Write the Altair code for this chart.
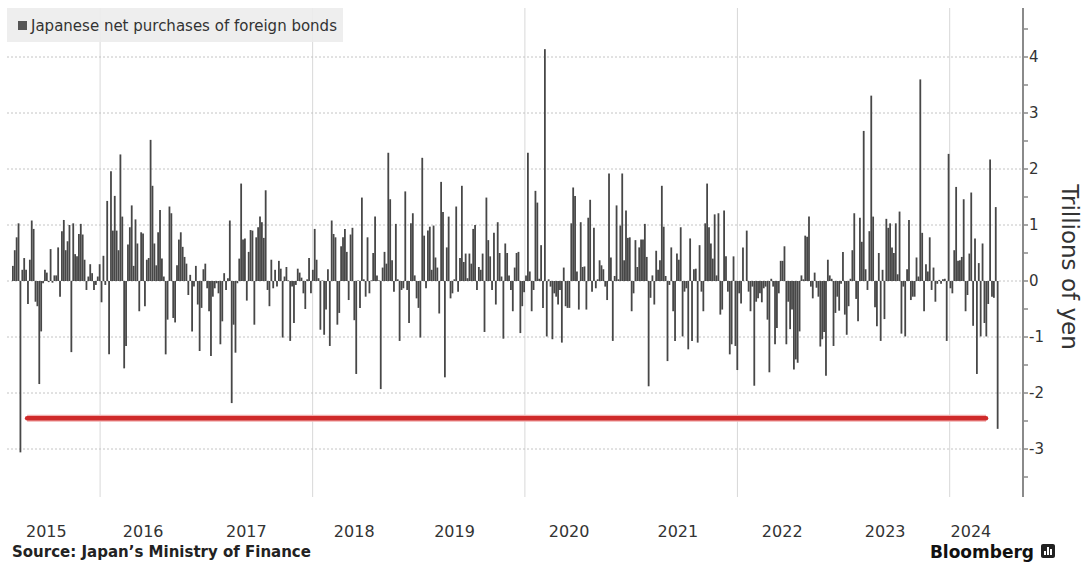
import altair as alt
import pandas as pd

# Weekly net purchases (trillions of yen), read left to right off the reference
seg1 = [0.27,0.55,0.78,1.03,-3.06,0.2,0.41,0.2,-0.41,0.38,1.08,0.93,-0.37,-0.45,-1.84,-0.9,-0.04,0.2,0.15,-0.02,
        0.57,-0.03,0.1,0.1,0.6,-0.28,0.89,1.09,0.55,0.71,1.0,-1.27,1.03,0.48,0.44,0.84,1.02,0.83,0.38,-0.16,
        0.08,0.3,0.14,-0.16,-0.07,0.08,0.3,-0.38,0.45,-0.07,1.43,-1.31,1.96,0.9,1.52,0.9,0.55,2.26,1.15,-1.56,
        -1.16,0.65,0.96,1.35,0.27]
seg2 = [1.1,0.67,-0.54,0.87,0.85,-0.45,0.38,0.41,2.52,1.7,0.67,0.28,0.87,1.27,0.4,0.08,-1.31,-0.69,1.33,1.21,
        -0.66,-0.74,0.28,0.74,0.87,0.61,0.43,0.31,-0.25,0.11,-0.9,-0.1,0.27,-0.42,-1.25,-0.48,0.21,0.31,-0.13,-0.54,
        -1.34,-0.28,-0.13,-0.04,-0.22,-1.13,-0.72,0.14,-0.16,0.05,1.08,-2.18,-0.78,-1.28,-0.04,0.4,1.74,0.74,0.76,-0.35,
        0.52,0.91,0.9,-0.78,0.78]
seg3 = [0.96,1.15,1.05,0.77,1.62,-0.16,-0.45,0.38,-0.13,0.2,-0.1,0.36,0.22,-1.01,0.08,0.25,0.01,-1.07,-0.1,-0.75,
        -0.07,0.22,0.15,0.06,-0.22,-0.5,0.03,0.41,-0.22,0.2,0.93,0.38,0.05,-0.87,0.01,-0.96,-0.51,0.21,-1.16,1.08,
        0.84,0.78,-0.78,-0.57,0.62,0.78,0.93,0.52,-0.34,0.83,0.95,-0.7,-1.66,0.01,-0.48,1.49,0.03,-0.28,0.78,-0.22,
        0.01,0.5,1.15,0.1,0.01,-1.93,0.24,0.52,0.31]
seg4 = [2.29,1.46,0.37,-0.19,1.02,0.03,-1.07,-0.16,-0.13,1.6,-0.16,-0.75,1.03,1.21,0.1,-0.31,-0.48,-1.01,2.2,0.81,
        -0.13,0.9,0.97,0.2,0.99,0.42,0.24,-0.58,1.77,1.23,-1.72,0.6,1.15,-0.31,-0.22,0.03,1.33,-0.19,0.41,1.7,
        0.34,0.49,0.05,0.49,0.31,0.93,1.0,-0.16,0.25,0.2,0.49,-0.91,1.49,0.73,0.44,-0.16,0.86,-0.42,1.05,0.5,
        0.08,-1.03,0.67]
seg5 = [0.5,0.1,-0.16,-0.54,0.24,0.5,0.52,-0.93,-0.45,-0.2,0.1,2.29,0.17,-0.54,-0.16,1.61,1.4,0.04,0.64,-0.48,
        4.14,-0.99,0.03,-0.1,-1.04,-0.22,-0.28,-0.42,-0.16,-1.1,0.24,-0.45,-0.48,-0.48,1.03,1.67,1.52,0.17,-0.51,1.05,
        0.25,0.26,-0.51,1.13,1.45,-0.19,0.95,-0.13,0.03,0.37,0.28,0.21,-0.1,-0.34,1.92,0.42,-1.07,0.09,1.35,0.03,
        0.99,1.92,0.37,1.26,0.77,0.78,-0.54,-0.22,0.73]
seg6 = [0.25,0.6,0.74,0.74,1.02,0.43,-1.88,-0.3,0.1,-0.42,0.54,0.2,0.37,1.7,0.97,0.09,-1.43,-0.07,0.6,-0.54,
        -1.07,0.49,0.38,0.96,-0.99,-0.19,-0.13,-1.22,0.76,-1.07,0.21,0.22,-1.1,0.64,-0.19,-0.54,1.03,1.74,0.96,0.67,
        0.4,1.19,0.1,1.21,-0.6,-0.51,1.26,0.44,-0.19,-1.31,-1.13,0.44,-1.16,-1.59,-0.22,-0.4,0.6,0.0,0.9,-0.19,
        -0.54,-0.1,-1.87]
seg7 = [-0.37,-0.31,-0.22,-0.38,-0.13,-0.1,-0.69,-1.63,0.04,-0.1,-1.13,-0.84,-0.22,0.36,0.36,0.62,-1.13,-0.37,-0.86,-0.51,
        -1.58,-1.4,-1.46,-0.9,0.1,0.03,0.81,0.79,1.15,-0.1,-0.31,0.15,-0.12,-0.28,-1.17,-1.04,-0.91,-1.69,0.38,0.1,
        0.04,-1.16,-0.57,-0.28,-0.53,-0.05,0.52,-0.6,-0.96,-0.45,0.04,0.55,1.21,-0.32,-0.72,1.13,0.7,2.68,0.21,-0.16,
        0.89,3.31,1.15,-0.47,-0.81,0.5,-1.07,0.2,-0.68,1.11]
seg8 = [0.95,1.03,0.6,0.5,1.03,0.12,1.24,-0.94,-0.1,-0.99,0.21,1.09,-0.34,-0.28,-0.28,0.42,0.08,3.6,0.86,-0.54,
        0.3,0.17,0.78,-0.16,0.24,-0.37,-0.05,0.02,-0.05,0.03,0.04,-1.07,2.27,-0.13,-0.22,0.55,1.68,0.36,0.37,0.43,
        1.46,-0.54,-0.25,0.49,1.58,-0.8,0.76,-1.66,0.32,-0.99,0.67,-0.75,-0.99,-0.41,2.17,-0.28,-0.3,1.32,-2.64]

values = seg1 + seg2 + seg3 + seg4 + seg5 + seg6 + seg7 + seg8
first_week = "2015-03-07"
last_week = "2024-06-14"
dates = pd.date_range(first_week, last_week, periods=len(values))
bars_df = pd.DataFrame({"date": dates.strftime("%Y-%m-%dT%H:%M:%S"), "value": values})

grid_dates = ["2016-01-01", "2018-01-01", "2020-01-01", "2022-01-01", "2024-01-01"]
grid_levels = [-3, -2, -1, 0, 1, 2, 3, 4]
y_labels = ["-3", "-2", "-1", "0", "1", "2", "3", "4"]
tick_levels = [-3.5, -3, -2.5, -2, -1.5, -1, -0.5, 0, 0.5, 1, 1.5, 2, 2.5, 3, 3.5, 4, 4.5]
year_label_dates = ["2015-06-30", "2016-05-28", "2017-05-18", "2018-05-24", "2019-05-04",
                    "2020-06-01", "2021-06-10", "2022-06-04", "2023-05-24", "2024-03-14"]
year_labels = ["2015", "2016", "2017", "2018", "2019", "2020", "2021", "2022", "2023", "2024"]
record_line = pd.DataFrame({"date": ["2015-04-25", "2024-05-05"], "v": [-2.45, -2.45]})

FONT = "DejaVu Sans"
W, H = 1016, 489
xs = alt.Scale(domain=[alt.DateTime(year=2015, month=3, date=4), alt.DateTime(year=2024, month=8, date=23)], nice=False)
ys = alt.Scale(domain=[-3.857, 4.875], nice=False, zero=False)
one = pd.DataFrame({"a": [0]})

vgrid = alt.Chart(pd.DataFrame({"d": grid_dates})).mark_rule(color="#d8d8d8", strokeWidth=1).encode(
    x=alt.X("d:T", scale=xs, axis=None), y=alt.value(0), y2=alt.value(H))
hgrid = alt.Chart(pd.DataFrame({"v": grid_levels})).mark_rule(color="#c4c4c4", strokeWidth=1, strokeDash=[2, 2]).encode(
    y=alt.Y("v:Q", scale=ys, axis=None), x=alt.value(0), x2=alt.value(W))
legend_box = alt.Chart(one).mark_rect(color="#ececec", opacity=0.9).encode(
    x=alt.value(0), x2=alt.value(336), y=alt.value(0), y2=alt.value(34))

bars = alt.Chart(bars_df).mark_bar(size=1.8, color="#474747").encode(
    x=alt.X("date:T", scale=xs, axis=None),
    y=alt.Y("value:Q", scale=ys, axis=None),
)

# right-hand axis drawn by hand
y_domain = alt.Chart(one).mark_rule(color="#8a8a8a", strokeWidth=2).encode(
    x=alt.value(W), y=alt.value(0), y2=alt.value(H))
y_ticks = alt.Chart(pd.DataFrame({"v": tick_levels})).mark_rule(color="#8a8a8a", strokeWidth=1.5).encode(
    y=alt.Y("v:Q", scale=ys, axis=None), x=alt.value(W), x2=alt.value(W + 5))
y_text = alt.Chart(pd.DataFrame({"v": grid_levels, "t": y_labels})).mark_text(
    align="left", baseline="middle", font=FONT, fontSize=15, color="#333333").encode(
    y=alt.Y("v:Q", scale=ys, axis=None), x=alt.value(W + 6), text="t:N")
x_text = alt.Chart(pd.DataFrame({"d": year_label_dates, "t": year_labels})).mark_text(
    align="center", baseline="middle", font=FONT, fontSize=16, color="#333333").encode(
    x=alt.X("d:T", scale=xs, axis=None), y=alt.value(H + 35), text="t:N")

red_halo = alt.Chart(record_line).mark_line(color="#f2b0b0", strokeWidth=7).encode(
    x=alt.X("date:T", scale=xs, axis=None), y=alt.Y("v:Q", scale=ys, axis=None))
red_core = alt.Chart(record_line).mark_line(color="#cf2a2a", strokeWidth=4.5, strokeCap="round").encode(
    x=alt.X("date:T", scale=xs, axis=None), y=alt.Y("v:Q", scale=ys, axis=None))

legend_sq = alt.Chart(one).mark_rect(color="#555555").encode(
    x=alt.value(11), x2=alt.value(20), y=alt.value(13), y2=alt.value(22))
legend_txt = alt.Chart(one).mark_text(align="left", baseline="middle", font=FONT, fontSize=15, color="#333333").encode(
    x=alt.value(24), y=alt.value(18), text=alt.value("Japanese net purchases of foreign bonds"))

ytitle = alt.Chart(one).mark_text(align="center", baseline="middle", angle=90, font=FONT, fontSize=23, color="#333333").encode(
    x=alt.value(1062), y=alt.value(259), text=alt.value("Trillions of yen"))
source = alt.Chart(one).mark_text(align="left", baseline="alphabetic", font=FONT, fontSize=15, fontWeight="bold", color="#222222").encode(
    x=alt.value(5), y=alt.value(549), text=alt.value("Source: Japan\u2019s Ministry of Finance"))
brand = alt.Chart(one).mark_text(align="right", baseline="alphabetic", font=FONT, fontSize=17, fontWeight="bold", color="#111111").encode(
    x=alt.value(1027), y=alt.value(550), text=alt.value("Bloomberg"))
logo = alt.Chart(one).mark_rect(color="#222222", cornerRadius=2).encode(
    x=alt.value(1034), x2=alt.value(1048), y=alt.value(536), y2=alt.value(550))
logo_b1 = alt.Chart(one).mark_rect(color="white").encode(
    x=alt.value(1037), x2=alt.value(1039), y=alt.value(543), y2=alt.value(547))
logo_b2 = alt.Chart(one).mark_rect(color="white").encode(
    x=alt.value(1040), x2=alt.value(1042), y=alt.value(539), y2=alt.value(547))
logo_b3 = alt.Chart(one).mark_rect(color="white").encode(
    x=alt.value(1043), x2=alt.value(1045), y=alt.value(541), y2=alt.value(547))

chart = alt.layer(
    vgrid, hgrid, legend_box, bars, red_halo, red_core, y_domain, y_ticks, y_text, x_text,
    legend_sq, legend_txt, ytitle, source, brand, logo, logo_b1, logo_b2, logo_b3
).properties(
    width=W, height=H,
    padding={"left": 7, "top": 8, "right": 60, "bottom": 66},
    autosize=alt.AutoSizeParams(type="none"),
    background="white",
).configure_view(stroke=None)

chart.save("out.html", embed_options={"renderer": "svg", "actions": False})
